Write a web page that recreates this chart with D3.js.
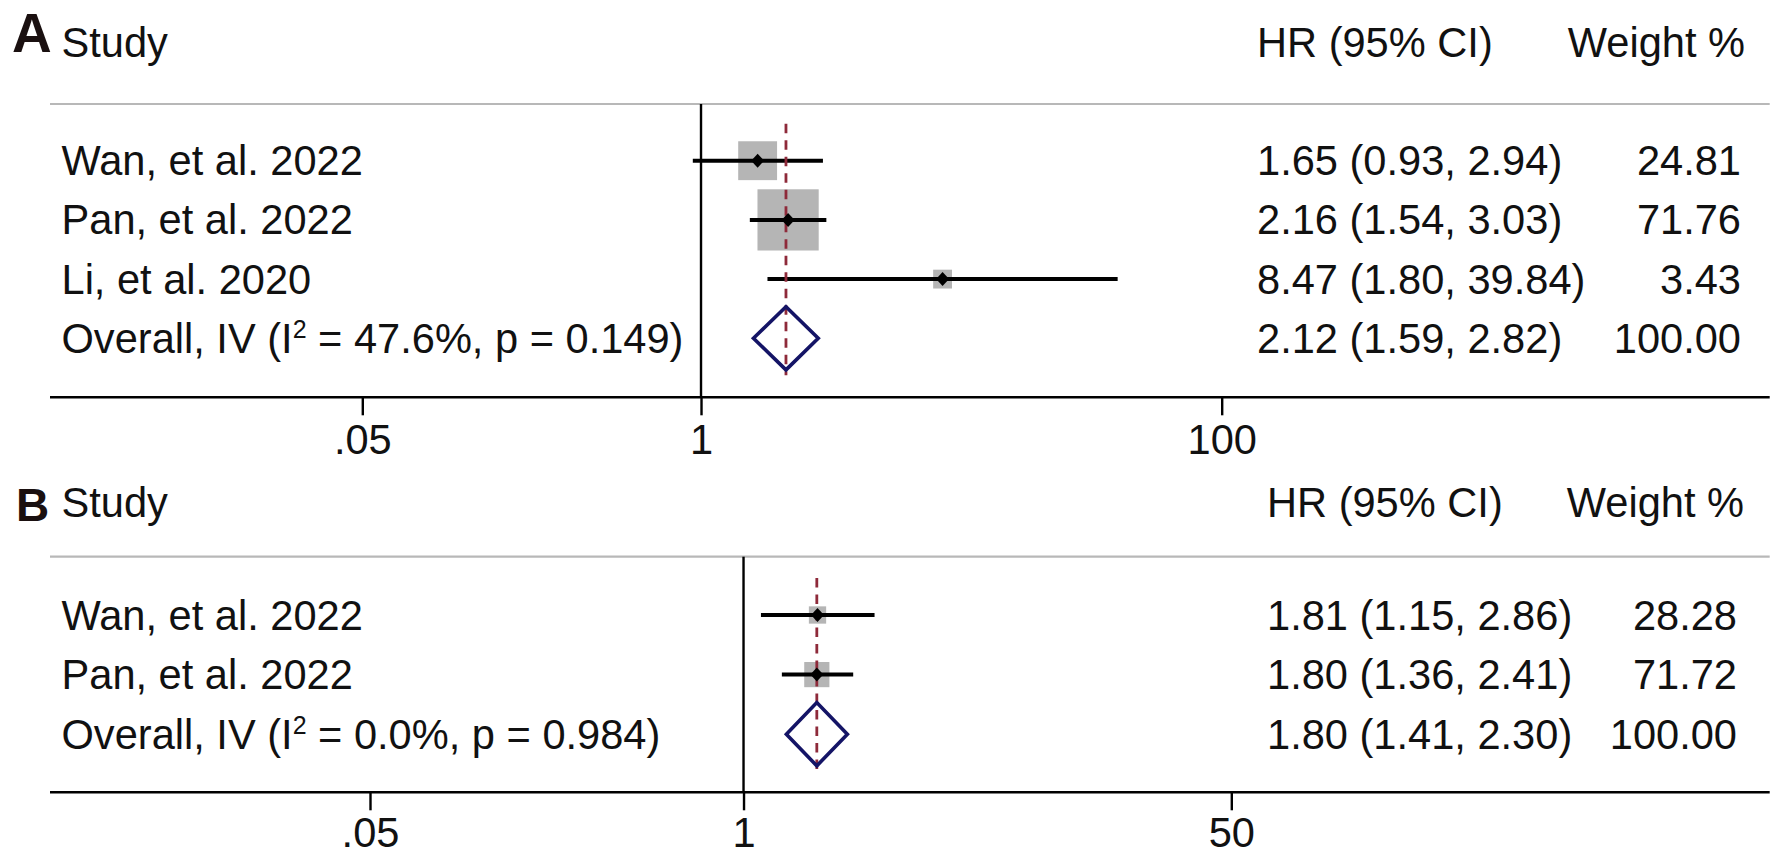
<!DOCTYPE html>
<html>
<head>
<meta charset="utf-8">
<script src="https://cdn.jsdelivr.net/npm/d3@7"></script>
<style>
  html, body { margin: 0; padding: 0; background: #ffffff; }
  svg { display: block; }
  text { font-family: "Liberation Sans", Arial, Helvetica, sans-serif; fill: #111111; }
</style>
</head>
<body>
<script>
// ---------------- DATA ----------------
// Panel A
const studyA   = ["Wan, et al. 2022", "Pan, et al. 2022", "Li, et al. 2020"];
const hrA      = [1.65, 2.16, 8.47];
const lowA     = [0.93, 1.54, 1.80];
const highA    = [2.94, 3.03, 39.84];
const weightA  = [24.81, 71.76, 3.43];
const overallA = [2.12, 1.59, 2.82];          // HR, low, high
const hetA     = ["47.6%", "0.149"];          // I², p
const tickValsA   = [0.05, 1, 100];
const tickLabelsA = [".05", "1", "100"];

// Panel B
const studyB   = ["Wan, et al. 2022", "Pan, et al. 2022"];
const hrB      = [1.81, 1.80];
const lowB     = [1.15, 1.36];
const highB    = [2.86, 2.41];
const weightB  = [28.28, 71.72];
const overallB = [1.80, 1.41, 2.30];
const hetB     = ["0.0%", "0.984"];
const tickValsB   = [0.05, 1, 50];
const tickLabelsB = [".05", "1", "50"];

const headers = ["Study", "HR (95% CI)", "Weight %"];

// ---------------- LAYOUT ----------------
const W = 1782, H = 862;
const FS = 41.6;
const svg = d3.select("body").append("svg").attr("width", W).attr("height", H);
svg.append("rect").attr("width", W).attr("height", H).attr("fill", "#ffffff");

const f2 = d3.format(".2f");

const layoutA = {
  label: "A", labelSize: 55, labelX: 12, labelBase: 52,
  headBase: 57, grayY: 104, axisY: 397.3, rowFirst: 160.7, rowLast: 338.3,
  xRange: [362.3, 1221.7], domain: [0.05, 100], tickPad: 9,
  studyX: 61.5, hrX: 1257, wX: 1741, whX: 1745, boxRange: [7, 71]
};
const layoutB = {
  label: "B", labelSize: 46, labelX: 16, labelBase: 520.7,
  headBase: 517, grayY: 556.7, axisY: 792.3, rowFirst: 615, rowLast: 734.2,
  xRange: [370, 1231.3], domain: [0.05, 50], tickPad: 7,
  studyX: 61.5, hrX: 1267, wX: 1737, whX: 1744, boxRange: [4, 29]
};

function drawPanel(L, study, hr, low, high, weight, overall, het, tickVals, tickLabels) {
  const g = svg.append("g");
  const n = study.length;
  const x = d3.scaleLog().domain(L.domain).range(L.xRange);
  const y = d3.scaleLinear().domain([0, n]).range([L.rowFirst, L.rowLast]);
  const box = d3.scaleLinear().domain([0, 10]).range(L.boxRange);
  const lineL = 50, lineR = 1769.7;

  // panel label + headers
  g.append("text").attr("x", L.labelX).attr("y", L.labelBase)
    .attr("font-size", L.labelSize).attr("font-weight", "bold")
    .style("fill", "#1a1010").text(L.label);
  g.append("text").attr("x", L.studyX).attr("y", L.headBase).attr("font-size", FS).text(headers[0]);
  g.append("text").attr("x", L.hrX).attr("y", L.headBase).attr("font-size", FS).text(headers[1]);
  g.append("text").attr("x", L.whX).attr("y", L.headBase).attr("font-size", FS)
    .attr("text-anchor", "end").text(headers[2]);

  // gray separator
  g.append("line").attr("x1", lineL).attr("x2", lineR).attr("y1", L.grayY).attr("y2", L.grayY)
    .attr("stroke", "#b8b8b8").attr("stroke-width", 2.2);

  // null line at 1
  g.append("line").attr("x1", x(1)).attr("x2", x(1)).attr("y1", L.grayY).attr("y2", L.axisY)
    .attr("stroke", "#000").attr("stroke-width", 2.4);

  const idx = d3.range(n);

  // weight boxes
  g.selectAll(".box").data(idx).join("rect")
    .attr("x", i => x(hr[i]) - box(Math.sqrt(weight[i])) / 2)
    .attr("y", i => y(i) - box(Math.sqrt(weight[i])) / 2)
    .attr("width", i => box(Math.sqrt(weight[i])))
    .attr("height", i => box(Math.sqrt(weight[i])))
    .attr("fill", "#b5b5b5");

  // CI lines
  g.selectAll(".ci").data(idx).join("line")
    .attr("x1", i => x(low[i])).attr("x2", i => x(high[i]))
    .attr("y1", i => y(i)).attr("y2", i => y(i))
    .attr("stroke", "#000").attr("stroke-width", 4);

  // overall dashed line
  g.append("line").attr("x1", x(overall[0])).attr("x2", x(overall[0]))
    .attr("y1", y(0) - 37).attr("y2", y(n) + 37)
    .attr("stroke", "#8e2a3a").attr("stroke-width", 2.8)
    .attr("stroke-dasharray", "9.5,7");

  // point markers (small black diamonds)
  g.selectAll(".pt").data(idx).join("path")
    .attr("d", i => {
      const cx = x(hr[i]), cy = y(i), a = 6.5, b = 7;
      return `M${cx},${cy - b}L${cx + a},${cy}L${cx},${cy + b}L${cx - a},${cy}Z`;
    })
    .attr("fill", "#000");

  // overall diamond
  const oy = y(n), hh = 31.6;
  g.append("path")
    .attr("d", `M${x(overall[1])},${oy}L${x(overall[0])},${oy - hh}L${x(overall[2])},${oy}L${x(overall[0])},${oy + hh}Z`)
    .attr("fill", "none").attr("stroke", "#141466").attr("stroke-width", 3.6)
    .attr("stroke-linejoin", "miter");

  // left texts
  g.selectAll(".st").data(idx).join("text")
    .attr("x", L.studyX).attr("y", i => y(i) + 14.5).attr("font-size", FS)
    .text(i => study[i]);
  const ot = g.append("text").attr("x", L.studyX).attr("y", oy + 14.5).attr("font-size", FS);
  ot.append("tspan").text("Overall, IV (I");
  ot.append("tspan").attr("font-size", 25).attr("dy", -15).text("2");
  ot.append("tspan").attr("dy", 15).text(` = ${het[0]}, p = ${het[1]})`);

  // right texts
  g.selectAll(".hr").data(idx).join("text")
    .attr("x", L.hrX).attr("y", i => y(i) + 14.5).attr("font-size", FS)
    .text(i => `${f2(hr[i])} (${f2(low[i])}, ${f2(high[i])})`);
  g.append("text").attr("x", L.hrX).attr("y", oy + 14.5).attr("font-size", FS)
    .text(`${f2(overall[0])} (${f2(overall[1])}, ${f2(overall[2])})`);
  g.selectAll(".wt").data(idx).join("text")
    .attr("x", L.wX).attr("y", i => y(i) + 14.5).attr("font-size", FS)
    .attr("text-anchor", "end").text(i => f2(weight[i]));
  g.append("text").attr("x", L.wX).attr("y", oy + 14.5).attr("font-size", FS)
    .attr("text-anchor", "end").text(f2(d3.sum(weight)));

  // axis
  g.append("line").attr("x1", lineL).attr("x2", lineR).attr("y1", L.axisY).attr("y2", L.axisY)
    .attr("stroke", "#000").attr("stroke-width", 2.6);
  const axis = d3.axisBottom(x).tickValues(tickVals)
    .tickFormat((d, i) => tickLabels[i]).tickSize(18).tickPadding(L.tickPad);
  const ag = g.append("g").attr("transform", `translate(0,${L.axisY})`).call(axis);
  ag.select(".domain").remove();
  ag.selectAll(".tick line").attr("stroke", "#000").attr("stroke-width", 2.4);
  ag.selectAll(".tick text").attr("font-size", FS)
    .style("font-family", "\"Liberation Sans\", Arial, sans-serif").style("fill", "#111");
}

drawPanel(layoutA, studyA, hrA, lowA, highA, weightA, overallA, hetA, tickValsA, tickLabelsA);
drawPanel(layoutB, studyB, hrB, lowB, highB, weightB, overallB, hetB, tickValsB, tickLabelsB);
</script>
</body>
</html>
